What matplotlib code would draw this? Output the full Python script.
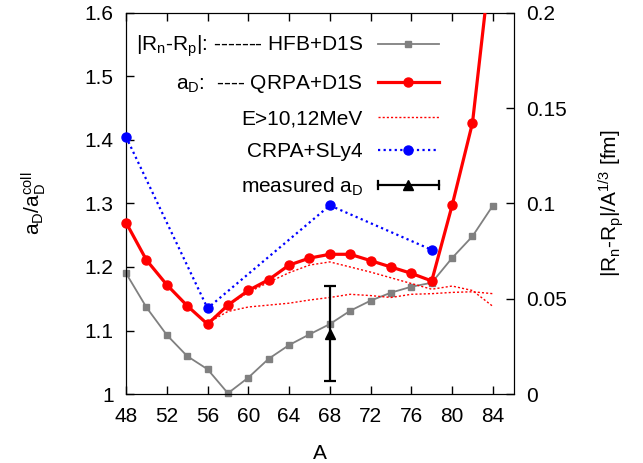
import matplotlib
matplotlib.use("Agg")
import matplotlib.pyplot as plt
import numpy as np
from matplotlib.lines import Line2D
from matplotlib.legend_handler import HandlerBase
from matplotlib.ticker import FormatStrFormatter

plt.rcParams['font.family'] = ['Liberation Sans', 'DejaVu Sans']
plt.rcParams['mathtext.default'] = 'regular'
FS = 15
plt.rcParams['font.size'] = FS

# ---- data ----
A = [48, 50, 52, 54, 56, 58, 60, 62, 64, 66, 68, 70, 72, 74, 76, 78, 80, 82, 84]
qrpa = [1.270, 1.211, 1.172, 1.139, 1.110, 1.140, 1.163, 1.180, 1.203, 1.214,
        1.220, 1.220, 1.210, 1.200, 1.190, 1.178, 1.297, 1.427, 1.71]
hfb = [0.0634, 0.0455, 0.0310, 0.0199, 0.0130, 0.0004, 0.0086, 0.0185, 0.0257,
       0.0313, 0.0367, 0.0437, 0.0490, 0.0532, 0.0563, 0.0584, 0.0714, 0.0828, 0.0989]

A_cut = [56, 58, 60, 62, 64, 66, 68, 70, 72, 74, 76, 78, 80, 82, 84]
cut10 = [1.112, 1.140, 1.160, 1.176, 1.191, 1.203, 1.208, 1.200, 1.192, 1.183,
         1.174, 1.165, 1.170, 1.163, 1.138]
cut12 = [1.112, 1.130, 1.137, 1.140, 1.143, 1.148, 1.152, 1.157, 1.155, 1.152,
         1.157, 1.158, 1.160, 1.161, 1.158]

A_crpa = [48, 56, 68, 78]
crpa = [1.405, 1.135, 1.297, 1.227]

A_meas = [68]
meas = [1.095]
meas_err = [0.075]

xticks = [48, 52, 56, 60, 64, 68, 72, 76, 80, 84]
yticks_left = [1.0, 1.1, 1.2, 1.3, 1.4, 1.5, 1.6]
yticks_right = [0, 0.05, 0.1, 0.15, 0.2]

fig = plt.figure(figsize=(6.43, 4.63), dpi=100)
ax = fig.add_axes([0.196, 0.149, 0.603, 0.823])
ax2 = ax.twinx()

# left axis series
ax.plot(A_cut, cut10, color='red', lw=1.0, ls=(0, (1.5, 1.5)), zorder=3)
ax.plot(A_cut, cut12, color='red', lw=1.0, ls=(0, (1.5, 1.5)), zorder=3)
ax.plot(A_crpa, crpa, color='blue', lw=1.6, ls=(0, (1, 1.5)), zorder=4)
ax.plot(A_crpa, crpa, ls='none', marker='o', ms=6.5, color='blue', clip_on=False, zorder=6)
ax.plot(A, qrpa, color='red', lw=2.3, zorder=5)
A_arr = np.array(A); q_arr = np.array(qrpa)
vis = q_arr <= 1.6
ax.plot(A_arr[vis], q_arr[vis], ls='none', marker='o', ms=6.5, color='red', clip_on=False, zorder=5)
ax.errorbar(A_meas, meas, yerr=meas_err, fmt='^', color='black', ms=7,
            elinewidth=1.6, capsize=4, capthick=1.6, zorder=7)

# right axis series
ax2.plot(A, hfb, color='gray', lw=1.3, marker='s', ms=4.5, clip_on=False, zorder=2)

ax.set_xlim(48, 86.05)
ax.set_ylim(1.0, 1.6)
ax2.set_ylim(0, 0.2)
ax.set_xticks(xticks)
ax.set_yticks(yticks_left)
ax2.set_yticks(yticks_right)
ax.yaxis.set_major_formatter(FormatStrFormatter('%g'))
ax2.yaxis.set_major_formatter(FormatStrFormatter('%g'))

ax.tick_params(axis='x', direction='in', top=True, length=6, width=1, pad=9, labelsize=FS)
ax.tick_params(axis='y', direction='in', right=False, length=6, width=1, pad=9, labelsize=FS)
ax2.tick_params(axis='y', direction='in', length=6, width=1, pad=9, labelsize=FS)

ax.set_xlabel('A', fontsize=FS)
ax.set_ylabel('a$_D$/a$_D^{coll}$', fontsize=FS)
ax2.set_ylabel('|R$_n$-R$_p$|/A$^{1/3}$ [fm]', fontsize=FS)
ax.xaxis.set_label_coords(0.5, -0.13)
ax.yaxis.set_label_coords(-0.201, 0.5)
ax2.yaxis.set_label_coords(1.214, 0.5)

ax.set_zorder(ax2.get_zorder() + 1)
ax.patch.set_visible(False)

# legend
class HandlerMeasured(HandlerBase):
    def create_artists(self, legend, orig_handle, xdescent, ydescent, width,
                       height, fontsize, trans):
        y = height / 2 - ydescent
        x0 = -xdescent
        x1 = width - xdescent
        arts = [
            Line2D([x0, x1], [y, y], color='black', lw=1.6),
            Line2D([x0, x0], [y - 3, y + 3], color='black', lw=1.6),
            Line2D([x1, x1], [y - 3, y + 3], color='black', lw=1.6),
            Line2D([(x0 + x1) / 2], [y], marker='^', color='black', ms=7, ls='none'),
        ]
        for a in arts:
            a.set_transform(trans)
        return arts

h_hfb = Line2D([], [], color='gray', lw=1.3, marker='s', ms=4.5)
h_qrpa = Line2D([], [], color='red', lw=2.3, marker='o', ms=6.5)
h_cut = Line2D([], [], color='red', lw=1.0, ls=(0, (1.5, 1.5)))
h_crpa = Line2D([], [], color='blue', lw=1.6, ls=(0, (1, 1.5)), marker='o', ms=6.5)
h_meas = object()

labels = ['|R$_n$-R$_p$|: ------- HFB+D1S', 'a$_D$:  ---- QRPA+D1S', 'E>10,12MeV',
          'CRPA+SLy4', 'measured a$_D$']
leg = ax.legend([h_hfb, h_qrpa, h_cut, h_crpa, h_meas], labels,
                handler_map={h_meas: HandlerMeasured()},
                loc='upper right', bbox_to_anchor=(0.807, 0.945),
                frameon=False, markerfirst=False, fontsize=FS,
                handlelength=2.93, handletextpad=0.72, labelspacing=0.67,
                borderpad=0, borderaxespad=0)

fig.savefig('out.png', dpi=100)
